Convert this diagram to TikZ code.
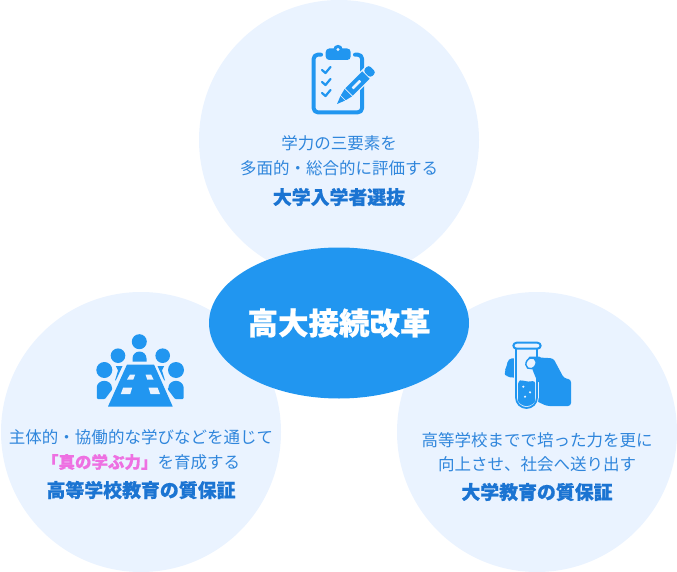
\documentclass[tikz,border=0pt]{standalone}
\usetikzlibrary{shapes.geometric}
\usepackage{fontspec}
\setmainfont[BoldFeatures={FakeBold=0.6}]{Noto Sans CJK JP}
\definecolor{pale}{HTML}{EAF3FF}
\definecolor{azure}{HTML}{2196F0}
\definecolor{bodyblue}{HTML}{2F86DC}
\definecolor{headblue}{HTML}{1B74D2}
\definecolor{pinktext}{HTML}{EE70E2}
\tikzset{
  disc/.style={circle,fill=pale,minimum size=280pt,inner sep=0pt},
  bodytext/.style={text=bodyblue,font=\fontsize{16.5}{20}\selectfont,inner sep=0pt},
  headtext/.style={text=headblue,font=\fontsize{18.9}{22}\selectfont\bfseries,inner sep=0pt},
  icon/.style={fill=azure,draw=none},
  iconline/.style={draw=azure,line cap=round,line join=round},
  gap/.style={fill=pale,draw=none}
}
\begin{document}
\begin{tikzpicture}[x=1pt,y=-1pt]
\useasboundingbox (0,0) rectangle (677,572);
\node[disc] (top) at (339,140) {};
\node[disc] (left) at (141,432) {};
\node[disc] (right) at (537,432) {};
\node[ellipse,fill=azure,minimum width=260pt,minimum height=151pt,inner sep=0pt,text=white,font=\fontsize{30.5}{34}\selectfont\bfseries] (center) at (339,323) {高大接続改革};
% top texts
\node[bodytext] (t1) at (339,143) {学力の三要素を};
\node[bodytext] (t2) at (339,168) {多面的・総合的に評価する};
\node[headtext] (t3) at (339,197) {大学入学者選抜};
% left texts
\node[bodytext] (l1) at (141,437) {主体的・協働的な学びなどを通じて};
\node[bodytext] (l2) at (141,462) {\textcolor{pinktext}{\bfseries 「真の学ぶ力」}を育成する};
\node[headtext] (l3) at (141,490) {高等学校教育の質保証};
% right texts
\node[bodytext] (r1) at (537,440) {高等学校までで培った力を更に};
\node[bodytext] (r2) at (537,464) {向上させ、社会へ送り出す};
\node[headtext] (r3) at (537,492) {大学教育の質保証};
% clipboard icon
\draw[iconline,line width=4pt,rounded corners=4pt] (321,54.7) -- (313.7,54.7) -- (313.7,112.3) -- (362,112.3) -- (362,54.7) -- (355,54.7);
\fill[icon,rounded corners=3.5pt] (325.7,48.5) rectangle (350.7,60);
\fill[icon] (338,49.5) circle (4.7);
\fill[gap] (338,49.5) circle (1.7);
\foreach \yy in {70,82,93}{
  \draw[iconline,line width=2.2pt] (322,\yy) -- (325.5,\yy+3) -- (330.5,\yy-3);
}
\begin{scope}[shift={(337,104)},rotate=45]
  \fill[gap,rounded corners=4pt] (-1,-6.5) rectangle (54,6.5);
  \fill[icon] (0,0) -- (8,-3.2) -- (8,3.2) -- cycle;
  \fill[icon] (9,-3.5) -- (16,-5.2) -- (16,5.2) -- (9,3.5) -- cycle;
  \fill[icon] (17,-5.2) rectangle (41,5.2);
  \fill[icon,rounded corners=3pt] (42,-5.2) -- (50,-5.2) -- (50,5.2) -- (42,5.2) -- cycle;
  \fill[gap,rounded corners=.5pt] (22,-1.4) rectangle (33,1.4);
\end{scope}
% meeting icon
\foreach \xx/\yy/\rr in {139.3/341.7/7.5,118/355.7/7.3,162.7/355.7/7.3,104.3/370/8,176/370/8}{
  \fill[icon] (\xx,\yy) circle (\rr);
}
\fill[icon] (132.5,361.7) -- (132.5,358.5) arc[start angle=180,end angle=360,x radius=7,y radius=7] -- (146.5,361.7) -- cycle;
\fill[icon,rounded corners=1pt] (96.8,399) -- (96.8,388) arc[start angle=180,end angle=360,x radius=7.5,y radius=7.2] -- (111.8,387) -- (112.5,389) -- (105,399) -- cycle;
\fill[icon,rounded corners=1pt] (183.5,399) -- (183.5,388) arc[start angle=0,end angle=-180,x radius=7.5,y radius=7.2] -- (168.5,387) -- (167.5,389) -- (175,399) -- cycle;
\fill[icon] (115.8,366) -- (122.5,366) -- (116,380) -- (115,380.5) -- (118,370.5) -- cycle;
\fill[icon] (164.2,366) -- (157.5,366) -- (164,380) -- (165,380.5) -- (162,370.5) -- cycle;
\fill[icon] (127,364.5) -- (154,364.5) -- (172.7,406.5) -- (108,406.5) -- cycle;
\fill[gap] (130,374.5) -- (135.2,374.5) -- (133.3,379.5) -- (127,379.5) -- cycle;
\fill[gap] (145.5,374.5) -- (151,374.5) -- (153.5,379.5) -- (147.2,379.5) -- cycle;
\fill[gap] (123.2,387.5) -- (132.2,387.5) -- (130.2,394) -- (120.8,394) -- cycle;
\fill[gap] (148.5,387.5) -- (157.5,387.5) -- (160,394) -- (150.5,394) -- cycle;
% test tube icon
\fill[icon,rounded corners=3pt] (530,357) -- (553.3,358.3) -- (564,378.3) -- (571,379.3) -- (571,406) -- (546.7,406) -- (530,398) -- cycle;
\fill[icon,rounded corners=4pt] (520,358) -- (508,358.5) -- (507,366) -- (504,372) -- (506,377) -- (520,378) -- cycle;
\draw[draw=pale,fill=pale,line width=3.6pt] (516,346) -- (516,397.5) arc[start angle=180,end angle=0,radius=10.5] -- (537,346);
\fill[icon,rounded corners=3pt] (518,381) -- (522,380) -- (528,382) -- (535.2,380.5) -- (535.2,397.5) arc[start angle=0,end angle=180,radius=8.6] -- cycle;
\draw[iconline,line width=1.8pt] (516,349) -- (516,397.5) arc[start angle=180,end angle=0,radius=10.5] -- (537,349);
\draw[iconline,line width=2pt,fill=pale,rounded corners=3.3pt] (513.3,342.7) rectangle (540.7,348.7);
\fill[icon,rounded corners=2pt] (528,356.6) -- (541,356.6) -- (541,383) -- (538,383) -- (533,371) -- cycle;
\draw[icon,draw=azure,fill=pale,line width=1.4pt,rotate around={-35:(531,363.3)}] (531,363.3) ellipse[x radius=4.8,y radius=5.8];
\foreach \xx/\yy in {523.3/386.7,530/392.3,525/396.7}{\fill[gap] (\xx,\yy) circle (1.2);}
\end{tikzpicture}
\end{document}
